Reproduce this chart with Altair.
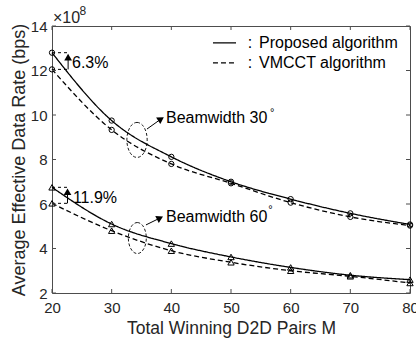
import altair as alt
import pandas as pd

# ---- data (values in units of 1e8 bps) ----
M = [20, 30, 40, 50, 60, 70, 80]
prop30 = [12.8, 9.75, 8.12, 7.0, 6.22, 5.58, 5.08]
vmcct30 = [12.05, 9.33, 7.8, 6.93, 6.06, 5.42, 5.03]
prop60 = [6.75, 5.1, 4.22, 3.62, 3.15, 2.8, 2.6]
vmcct60 = [6.03, 4.8, 3.9, 3.38, 3.0, 2.75, 2.45]

x_ticks = [20, 30, 40, 50, 60, 70, 80]
y_ticks = [2, 4, 6, 8, 10, 12, 14]

algos = ["Proposed", "VMCCT"]
beams = ["30", "60"]

# annotation data
gain_text = ["6.3%", "11.9%"]
gain_x = [23.35, 23.5]
gain_y = [12.34, 6.27]
arrow_x = [22.7, 22.6]
arrow_lo = [12.05, 6.03]
arrow_hi = [12.8, 6.75]

beam_text = ["Beamwidth 30", "Beamwidth 60"]
beam_tx = [39.1, 39.1]
beam_ty = [9.85, 5.4]
deg_x = [56.9, 56.6]
deg_y = [10.1, 5.72]
ell_x = [34.25, 34.3]
ell_y = [8.88, 4.47]
ell_size = [1225, 961]
barrow_x1 = [35.92, 35.75]
barrow_y1 = [9.37, 5.06]
barrow_x2 = [38.27, 38.1]
barrow_y2 = [9.82, 5.37]
barrow_ang = [57, 63]

leg_labels = ["Proposed algorithm", "VMCCT algorithm"]
leg_x1 = [46.98, 46.98]
leg_x2 = [50.84, 50.84]
leg_y = [13.24, 12.34]
leg_colon_x = [53.2, 53.2]
leg_text_x = [54.7, 54.7]

W, H = 358, 267
FONT = "Liberation Sans"
AX = "#4d4d4d"

rows = []
for algo, beam, vals in [("Proposed", "30", prop30), ("VMCCT", "30", vmcct30),
                         ("Proposed", "60", prop60), ("VMCCT", "60", vmcct60)]:
    for m, v in zip(M, vals):
        rows.append({"M": m, "rate": v, "algo": algo, "beam": beam, "series": algo + beam})
df = pd.DataFrame(rows)

xs = alt.Scale(domain=[20, 80], nice=False, zero=False)
ys = alt.Scale(domain=[2, 14], nice=False, zero=False)

XTITLE = "Total Winning D2D Pairs M"
YTITLE = "Average Effective Data Rate (bps)"
x_axis = alt.Axis(
    values=x_ticks, ticks=False, grid=False, domain=False, labelFontSize=15, labelFlush=False,
    labelColor="#262626", labelPadding=7, title=XTITLE,
    titleFontSize=17.5, titleFontWeight="normal", titleColor="#262626", titlePadding=4,
    labelFont=FONT, titleFont=FONT)
y_axis = alt.Axis(
    values=y_ticks, ticks=False, grid=False, domain=False, labelFontSize=15, labelFlush=False,
    labelColor="#262626", labelPadding=5, title=YTITLE,
    titleFontSize=18, titleFontWeight="normal", titleColor="#262626", titlePadding=2,
    labelFont=FONT, titleFont=FONT)


def X(f):
    return alt.X(f, scale=xs, axis=x_axis, title=XTITLE)


def Y(f):
    return alt.Y(f, scale=ys, axis=y_axis, title=YTITLE)


dash = alt.StrokeDash("algo:N", scale=alt.Scale(domain=algos, range=[[1, 0], [5, 3]]), legend=None)

lines = alt.Chart(df).mark_line(interpolate="monotone", color="black", strokeWidth=1.3).encode(
    x=X("M:Q"), y=Y("rate:Q"), strokeDash=dash, detail="series:N")

points = alt.Chart(df).mark_point(filled=False, color="black", strokeWidth=1, opacity=1).encode(
    x=X("M:Q"), y=Y("rate:Q"),
    shape=alt.Shape("beam:N", scale=alt.Scale(domain=beams, range=["circle", "triangle-up"]), legend=None),
    size=alt.Size("beam:N", scale=alt.Scale(domain=beams, range=[28, 40]), legend=None))

# gain annotations
gdf = pd.DataFrame({"tx": gain_text, "gx": gain_x, "gy": gain_y, "ax": arrow_x,
                    "lo": arrow_lo, "hi": arrow_hi, "x0": [20, 20],
                    "head": [h - 0.2 for h in arrow_hi]})
box_top = alt.Chart(gdf).mark_rule(color="black", strokeDash=[3, 3], strokeWidth=1).encode(
    x=X("x0:Q"), x2="ax:Q", y=Y("hi:Q"))
box_bot = alt.Chart(gdf).mark_rule(color="black", strokeDash=[3, 3], strokeWidth=1).encode(
    x=X("x0:Q"), x2="ax:Q", y=Y("lo:Q"))
arrow_v = alt.Chart(gdf).mark_rule(color="black", strokeWidth=1).encode(
    x=X("ax:Q"), y=Y("lo:Q"), y2="head:Q")
arrow_vh = alt.Chart(gdf).mark_point(shape="triangle-up", filled=True, color="black", size=60, opacity=1).encode(
    x=X("ax:Q"), y=Y("head:Q"))
gain_lbl = alt.Chart(gdf).mark_text(align="left", baseline="middle", fontSize=16, font=FONT, color="black").encode(
    x=X("gx:Q"), y=Y("gy:Q"), text="tx:N")

# beamwidth annotations
bdf = pd.DataFrame({"tx": beam_text, "bx": beam_tx, "by": beam_ty, "dx": deg_x, "dy": deg_y,
                    "ex": ell_x, "ey": ell_y, "es": ell_size,
                    "ax1": barrow_x1, "ay1": barrow_y1, "ax2": barrow_x2, "ay2": barrow_y2,
                    "ang": barrow_ang, "deg": ["°", "°"]})
ell_path = "M0,-1A0.58,1 0 1,1 0,1A0.58,1 0 1,1 0,-1Z"
ellipses = alt.Chart(bdf).mark_point(shape=ell_path, filled=False, color="black", strokeWidth=0.9,
                                     strokeDash=[3, 2], opacity=1).encode(
    x=X("ex:Q"), y=Y("ey:Q"), size=alt.Size("es:Q", scale=None, legend=None))
b_arrow = alt.Chart(bdf).mark_rule(color="black", strokeWidth=1).encode(
    x=X("ax1:Q"), y=Y("ay1:Q"), x2="ax2:Q", y2="ay2:Q")
b_head = alt.Chart(bdf).mark_point(shape="triangle-up", filled=True, color="black", size=60, opacity=1).encode(
    x=X("ax2:Q"), y=Y("ay2:Q"), angle=alt.Angle("ang:Q", scale=None))
b_lbl = alt.Chart(bdf).mark_text(align="left", baseline="middle", fontSize=16, font=FONT, color="black").encode(
    x=X("bx:Q"), y=Y("by:Q"), text="tx:N")
b_deg = alt.Chart(bdf).mark_text(align="center", baseline="middle", fontSize=11, font=FONT, color="black").encode(
    x=X("dx:Q"), y=Y("dy:Q"), text="deg:N")

# legend
leg_rows = []
for lab, algo, a, b, y in zip(leg_labels, algos, leg_x1, leg_x2, leg_y):
    leg_rows.append({"lab": lab, "algo": algo, "lx": a, "ly": y})
    leg_rows.append({"lab": lab, "algo": algo, "lx": b, "ly": y})
lldf = pd.DataFrame(leg_rows)
leg_lines = alt.Chart(lldf).mark_line(color="black", strokeWidth=1.3).encode(
    x=X("lx:Q"), y=Y("ly:Q"), strokeDash=dash, detail="lab:N")
ldf = pd.DataFrame({"lab": leg_labels, "ly": leg_y, "cx": leg_colon_x, "tx": leg_text_x,
                    "colon": [":", ":"]})
leg_colon = alt.Chart(ldf).mark_text(align="center", baseline="middle", fontSize=16, font=FONT, color="black").encode(
    x=X("cx:Q"), y=Y("ly:Q"), text="colon:N")
leg_text = alt.Chart(ldf).mark_text(align="left", baseline="middle", fontSize=16, font=FONT, color="black").encode(
    x=X("tx:Q"), y=Y("ly:Q"), text="lab:N")

# exponent label (×10^8)
expo_base = alt.Chart(pd.DataFrame({"x": [20.17], "y": [14.36], "t": ["×10"]})).mark_text(
    align="left", baseline="middle", font=FONT, fontSize=16, color="#262626").encode(
    x=X("x:Q"), y=Y("y:Q"), text="t:N")
expo_pow = alt.Chart(pd.DataFrame({"x": [24.6], "y": [14.68], "t": ["8"]})).mark_text(
    align="left", baseline="middle", font=FONT, fontSize=12, color="#262626").encode(
    x=X("x:Q"), y=Y("y:Q"), text="t:N")

# inward ticks
xt = pd.DataFrame({"t": x_ticks})
yt = pd.DataFrame({"t": y_ticks})
tk_b = alt.Chart(xt).mark_rule(color=AX).encode(x=X("t:Q"), y=alt.value(H), y2=alt.value(H - 4))
tk_t = alt.Chart(xt).mark_rule(color=AX).encode(x=X("t:Q"), y=alt.value(0), y2=alt.value(4))
tk_l = alt.Chart(yt).mark_rule(color=AX).encode(y=Y("t:Q"), x=alt.value(0), x2=alt.value(4))
tk_r = alt.Chart(yt).mark_rule(color=AX).encode(y=Y("t:Q"), x=alt.value(W), x2=alt.value(W - 4))

chart = alt.layer(
    lines, points, box_top, box_bot, arrow_v, arrow_vh, gain_lbl,
    ellipses, b_arrow, b_head, b_lbl, b_deg,
    leg_lines, leg_colon, leg_text, expo_base, expo_pow,
    tk_b, tk_t, tk_l, tk_r
).properties(
    width=W, height=H,
    autosize=alt.AutoSizeParams(type="none"),
    padding={"left": 52, "top": 26, "right": 6, "bottom": 49},
    background="white",
).configure(font=FONT).configure_view(stroke=AX, strokeWidth=1)

chart.save("out.html", embed_options={"renderer": "svg", "actions": False})
